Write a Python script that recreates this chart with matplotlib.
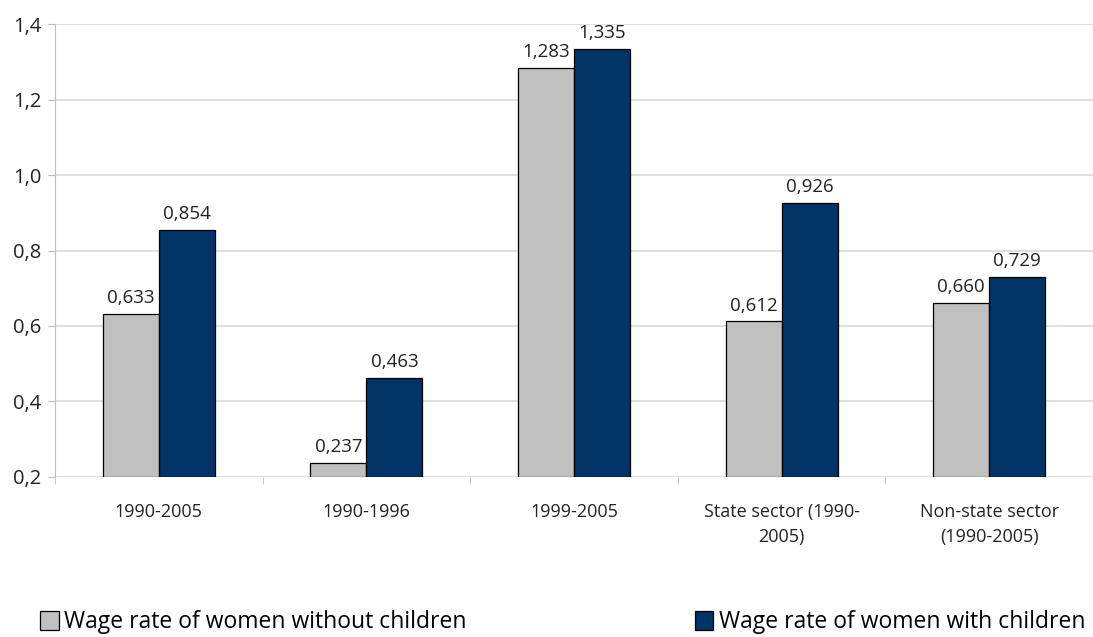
import matplotlib

matplotlib.use("Agg")
import matplotlib.pyplot as plt
import numpy as np
from matplotlib.ticker import FixedLocator, FuncFormatter

categories = ["1990-2005", "1990-1996", "1999-2005",
              "State sector (1990-\n2005)", "Non-state sector\n(1990-2005)"]
without_children = [0.633, 0.237, 1.283, 0.612, 0.660]
with_children = [0.854, 0.463, 1.335, 0.926, 0.729]
series_names = ["Wage rate of women without children",
                "Wage rate of women with children"]
y_ticks = [0.2, 0.4, 0.6, 0.8, 1.0, 1.2, 1.4]

plt.rcParams["font.family"] = ["Open Sans", "DejaVu Sans"]

fig = plt.figure(figsize=(10.93, 6.37), dpi=100)
ax = fig.add_axes([0.0503, 0.2512, 0.9497, 0.7111])

x = np.arange(len(categories))
w = 0.27
grey, navy = "#c0c0c0", "#003366"
b1 = ax.bar(x - w / 2, np.array(without_children) - 0.2, w, bottom=0.2,
            color=grey, edgecolor="black", linewidth=0.9, zorder=3)
b2 = ax.bar(x + w / 2, np.array(with_children) - 0.2, w, bottom=0.2,
            color=navy, edgecolor="black", linewidth=0.9, zorder=3)

fmt = lambda v: f"{v:.3f}".replace(".", ",")
for xs, vals in ((x - w / 2, without_children), (x + w / 2, with_children)):
    for xi, v in zip(xs, vals):
        ax.annotate(fmt(v), (xi, v), xytext=(0, 5), textcoords="offset points",
                    ha="center", va="bottom", fontsize=13.5, color="#222222")

ax.set_xlim(-0.5, len(categories) - 0.5)
ax.set_ylim(0.2, 1.4)
ax.yaxis.set_major_locator(FixedLocator(y_ticks))
ax.yaxis.set_major_formatter(FuncFormatter(lambda v, _: f"{v:.1f}".replace(".", ",")))
ax.yaxis.grid(True, color="#d9d9d9", linewidth=1.2, zorder=0)
ax.set_axisbelow(True)

# category labels centred, ticks drawn at category boundaries
ax.set_xticks(x)
ax.set_xticklabels(categories, fontsize=13, color="#222222", linespacing=1.45)
ax.tick_params(axis="x", which="major", length=0, pad=19)
ax.set_xticks(np.arange(len(categories) + 1) - 0.5, minor=True)
ax.tick_params(axis="x", which="minor", length=5, color="#bfbfbf", direction="out")
ax.tick_params(axis="y", length=5, color="#bfbfbf", labelsize=14.5,
               labelcolor="#222222", pad=5)

for side in ("top", "right", "bottom"):
    ax.spines[side].set_visible(False)
ax.spines["left"].set_color("#bfbfbf")

# legend entries placed at the bottom corners
fig.legend([b1], [series_names[0]], loc="lower left", bbox_to_anchor=(0.018, -0.028),
           frameon=False, fontsize=16.5, handlelength=0.8, handleheight=0.9,
           handletextpad=0.25)
fig.legend([b2], [series_names[1]], loc="lower right", bbox_to_anchor=(1.012, -0.028),
           frameon=False, fontsize=16.5, handlelength=0.8, handleheight=0.9,
           handletextpad=0.25)

fig.savefig("out.png", dpi=100)
